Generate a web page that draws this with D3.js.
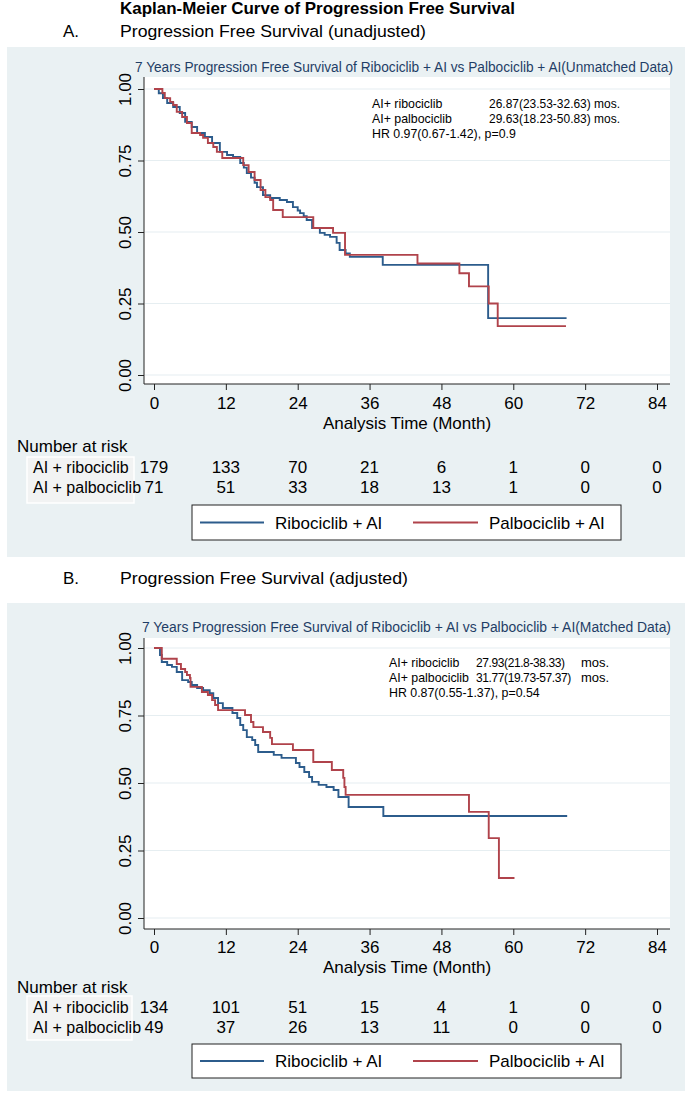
<!DOCTYPE html>
<html><head><meta charset="utf-8">
<script src="https://cdn.jsdelivr.net/npm/d3@7"></script>
<style>
html,body{margin:0;padding:0;background:#fff;}
svg{display:block;}
text{font-family:"Liberation Sans",Arial,sans-serif;fill:#000;}
</style></head><body>
<svg id="chart" width="685" height="1093"></svg>
<script>
// ---------- data ----------
const timeTicks = [0, 12, 24, 36, 48, 60, 72, 84];
const survTicks = [0, 0.25, 0.5, 0.75, 1];
const groupLabels = ["AI + ribociclib", "AI + palbociclib"];
const legendLabels = ["Ribociclib + AI", "Palbociclib + AI"];

const riskA_ribo  = [179, 133, 70, 21, 6, 1, 0, 0];
const riskA_palbo = [71, 51, 33, 18, 13, 1, 0, 0];
const riskB_ribo  = [134, 101, 51, 15, 4, 1, 0, 0];
const riskB_palbo = [49, 37, 26, 13, 11, 0, 0, 0];

// [time (months), survival after the step]
const kmA_ribo = [[0,1],[0.8,0.985],[1.5,0.968],[2.2,0.951],[3.2,0.937],[4.3,0.916],[5.2,0.885],[6.3,0.867],[7.2,0.846],[8.5,0.832],[9.7,0.811],[11,0.78],[12.2,0.769],[13.2,0.762],[14.4,0.741],[15,0.725],[15.5,0.706],[16.2,0.69],[16.8,0.672],[17.2,0.657],[18.2,0.629],[19.4,0.619],[21,0.612],[22.2,0.605],[23.2,0.587],[24,0.575],[24.4,0.566],[25,0.555],[25.5,0.542],[26.4,0.514],[27.7,0.497],[28.5,0.49],[29.4,0.483],[30.5,0.462],[31,0.437],[32,0.425],[32.7,0.413],[38.2,0.385],[55.8,0.199],[68.9,0.199]];
const kmA_palbo = [[0,1],[1.4,0.986],[1.8,0.968],[2.7,0.955],[3.2,0.944],[3.8,0.92],[4.7,0.902],[5.5,0.881],[6.3,0.846],[7.7,0.839],[8.2,0.829],[9,0.811],[9.9,0.797],[10.5,0.78],[11.4,0.759],[14.9,0.734],[15.8,0.71],[16.8,0.682],[17.8,0.647],[18.6,0.622],[19.4,0.612],[19.9,0.577],[21.5,0.552],[26.6,0.514],[29.9,0.497],[31.9,0.42],[44,0.39],[51,0.356],[52.6,0.31],[55.9,0.25],[57.4,0.171],[68.8,0.171]];
const kmB_ribo = [[0,1],[1,0.974],[1.3,0.948],[2.2,0.937],[3,0.93],[3.8,0.911],[4.7,0.881],[5.7,0.874],[6.3,0.863],[7.2,0.852],[8.2,0.844],[9.3,0.833],[9.9,0.815],[10.7,0.796],[11.5,0.778],[13.1,0.759],[13.9,0.741],[14.4,0.715],[14.9,0.696],[15.5,0.67],[16.4,0.659],[16.9,0.641],[17.4,0.615],[20,0.604],[21.3,0.593],[23.7,0.574],[24.3,0.559],[25.1,0.541],[25.9,0.522],[26.4,0.504],[27.5,0.493],[28.8,0.485],[30,0.474],[30.8,0.448],[32.5,0.411],[38.3,0.378],[69,0.378]];
const kmB_palbo = [[0,1],[1.3,0.96],[3.8,0.941],[4.5,0.922],[5.2,0.911],[5.5,0.9],[6,0.889],[6.1,0.856],[8,0.837],[9,0.826],[9.7,0.807],[10.2,0.789],[10.7,0.77],[15.2,0.752],[16.2,0.726],[16.6,0.707],[18.2,0.689],[19.4,0.667],[19.7,0.644],[23.2,0.622],[26.6,0.578],[29.7,0.548],[31.6,0.519],[31.8,0.485],[32,0.456],[52.6,0.393],[55.9,0.296],[57.6,0.148],[60.2,0.148]];

const annotA = ["AI+ ribociclib", "AI+ palbociclib", "HR 0.97(0.67-1.42), p=0.9"];
const annotAVals = ["26.87(23.53-32.63) mos.", "29.63(18.23-50.83) mos."];
const annotB = ["AI+ ribociclib", "AI+ palbociclib", "HR 0.87(0.55-1.37), p=0.54"];
const annotBVals = ["27.93(21.8-38.33)", "31.77(19.73-57.37)"];

const colors = ["#2c5c8c", "#b0434b"];
const svg = d3.select("#chart");

function condense(sel, f) {
  sel.each(function(){
    const L = this.getComputedTextLength();
    d3.select(this).attr("textLength", L*f).attr("lengthAdjust","spacingAndGlyphs");
  });
  return sel;
}

// ---------- headers ----------
const hdr = "Lato, 'Open Sans', sans-serif";
svg.append("text").attr("x",120).attr("y",14).attr("font-family",hdr).attr("font-weight","bold")
  .attr("font-size",17).attr("textLength",395).attr("lengthAdjust","spacingAndGlyphs")
  .text("Kaplan-Meier Curve of Progression Free Survival");
svg.append("text").attr("x",63).attr("y",37).attr("font-family",hdr).attr("font-size",17).text("A.");
svg.append("text").attr("x",120).attr("y",37).attr("font-family",hdr).attr("font-size",17)
  .attr("textLength",306).attr("lengthAdjust","spacingAndGlyphs").text("Progression Free Survival (unadjusted)");
svg.append("text").attr("x",63).attr("y",584).attr("font-family",hdr).attr("font-size",17).text("B.");
svg.append("text").attr("x",120).attr("y",584).attr("font-family",hdr).attr("font-size",17)
  .attr("textLength",288).attr("lengthAdjust","spacingAndGlyphs").text("Progression Free Survival (adjusted)");

function panel(c) {
  const g = svg.append("g");
  g.append("rect").attr("x",7).attr("y",c.bgY).attr("width",678).attr("height",c.bgH).attr("fill","#eaf1f3");
  g.append("text").attr("x",c.titleX).attr("y",c.titleY).attr("font-size",14).attr("fill","#1f3e66")
    .style("fill","#1f3e66").attr("textLength",c.titleW).attr("lengthAdjust","spacingAndGlyphs").text(c.title);

  const x = d3.scaleLinear().domain([0,84]).range([154,657]);
  const y = d3.scaleLinear().domain([0,1]).range([c.y0, c.y1]);

  g.append("rect").attr("x",144).attr("y",c.plotTop).attr("width",670-144).attr("height",c.axisY-c.plotTop).attr("fill","#fff");
  g.selectAll(".grid").data(survTicks).join("line")
    .attr("x1",145).attr("x2",670).attr("y1",d=>y(d)).attr("y2",d=>y(d))
    .attr("stroke","#e6eef1").attr("stroke-width",1.2);

  const yAxis = d3.axisLeft(y).tickValues(survTicks).tickSize(6).tickFormat(d3.format(".2f"));
  const ya = g.append("g").attr("transform","translate(144,0)").call(yAxis);
  ya.select(".domain").attr("d",`M0,${c.plotTop}V${c.axisY}`).attr("stroke","#222");
  ya.selectAll(".tick line").attr("stroke","#222");
  ya.selectAll(".tick text").attr("font-size",17).attr("font-family","'Liberation Sans',Arial,sans-serif")
    .attr("x",null).attr("dy",null).attr("text-anchor","middle")
    .attr("transform","translate(-13,0) rotate(-90)").attr("y",0);

  const xAxis = d3.axisBottom(x).tickValues(timeTicks).tickSize(6).tickFormat(d3.format("d"));
  const xa = g.append("g").attr("transform",`translate(0,${c.axisY})`).call(xAxis);
  xa.select(".domain").attr("d","M144,0H670").attr("stroke","#222");
  xa.selectAll(".tick line").attr("stroke","#222");
  xa.selectAll(".tick text").attr("font-size",17).attr("font-family","'Liberation Sans',Arial,sans-serif")
    .attr("dy",null).attr("y",c.tickLblY - c.axisY);

  g.append("text").attr("x",407).attr("y",c.axisTitleY).attr("font-size",17).attr("text-anchor","middle").text("Analysis Time (Month)");

  const line = d3.line().x(d=>x(d[0])).y(d=>y(d[1])).curve(d3.curveStepAfter);
  c.curves.forEach((cv,i)=>{
    g.append("path").attr("d",line(cv)).attr("fill","none").attr("stroke",colors[i]).attr("stroke-width",1.9);
  });

  c.ann.forEach((t,i)=>{
    condense(g.append("text").attr("x",c.annX).attr("y",c.annY[i]).attr("font-size",13).text(t), 0.95);
  });
  if (!c.mos) {
    c.annVals.forEach((t,i)=>{
      condense(g.append("text").attr("x",c.annValX).attr("y",c.annY[i]).attr("font-size",13).text(t), 0.92);
    });
  } else {
    c.annVals.forEach((t,i)=>{
      g.append("text").attr("x",c.annValX).attr("y",c.annY[i]).attr("font-size",12)
        .attr("letter-spacing",-0.4).text(t);
      g.append("text").attr("x",c.mosX).attr("y",c.annY[i]).attr("font-size",13).text("mos.");
    });
  }

  g.append("text").attr("x",17).attr("y",c.narY).attr("font-size",17).text("Number at risk");
  g.append("rect").attr("x",27).attr("y",c.boxY).attr("width",c.boxW).attr("height",c.boxH)
    .attr("fill","#f2f3f3").attr("stroke","#ffffff").attr("stroke-width",1.5);
  [c.row1Y, c.row2Y].forEach((ry,i)=>{
    g.append("text").attr("x",33).attr("y",ry).attr("font-size",16).text(groupLabels[i]);
    g.selectAll(null).data(c.risk[i]).join("text")
      .attr("x",(d,j)=>x(timeTicks[j])).attr("y",ry).attr("font-size",17).attr("text-anchor","middle").text(d=>d);
  });

  g.append("rect").attr("x",192).attr("y",c.legY).attr("width",429).attr("height",c.legH)
    .attr("fill","#fff").attr("stroke","#222").attr("stroke-width",1);
  const ly = c.legY + c.legH/2;
  [[200,264,275],[413,478,489]].forEach((p,i)=>{
    g.append("line").attr("x1",p[0]).attr("x2",p[1]).attr("y1",ly).attr("y2",ly).attr("stroke",colors[i]).attr("stroke-width",1.9);
    g.append("text").attr("x",p[2]).attr("y",ly+6).attr("font-size",17).text(legendLabels[i]);
  });
}

panel({
  bgY:47, bgH:510, title:"7 Years Progression Free Survival of Ribociclib + AI vs Palbociclib + AI(Unmatched Data)",
  titleX:135, titleY:72, titleW:538, plotTop:77, y1:89, y0:375, axisY:384, tickLblY:409, axisTitleY:429,
  narY:452, row1Y:473, row2Y:493, boxY:457, boxH:46, boxW:107, legY:505, legH:35,
  curves:[kmA_ribo, kmA_palbo], risk:[riskA_ribo, riskA_palbo],
  ann:annotA, annVals:annotAVals, annX:372, annValX:489, annY:[108,123,138], mos:false
});
panel({
  bgY:603, bgH:488, title:"7 Years Progression Free Survival of Ribociclib + AI vs Palbociclib + AI(Matched Data)",
  titleX:142, titleY:632, titleW:529, plotTop:638, y1:648, y0:918, axisY:929, tickLblY:953, axisTitleY:973,
  narY:993, row1Y:1013, row2Y:1033, boxY:996, boxH:44, boxW:105, legY:1044, legH:34,
  curves:[kmB_ribo, kmB_palbo], risk:[riskB_ribo, riskB_palbo],
  ann:annotB, annVals:annotBVals, annX:389, annValX:476, annY:[667,682,697], mos:true, mosX:581
});
</script>
</body></html>
